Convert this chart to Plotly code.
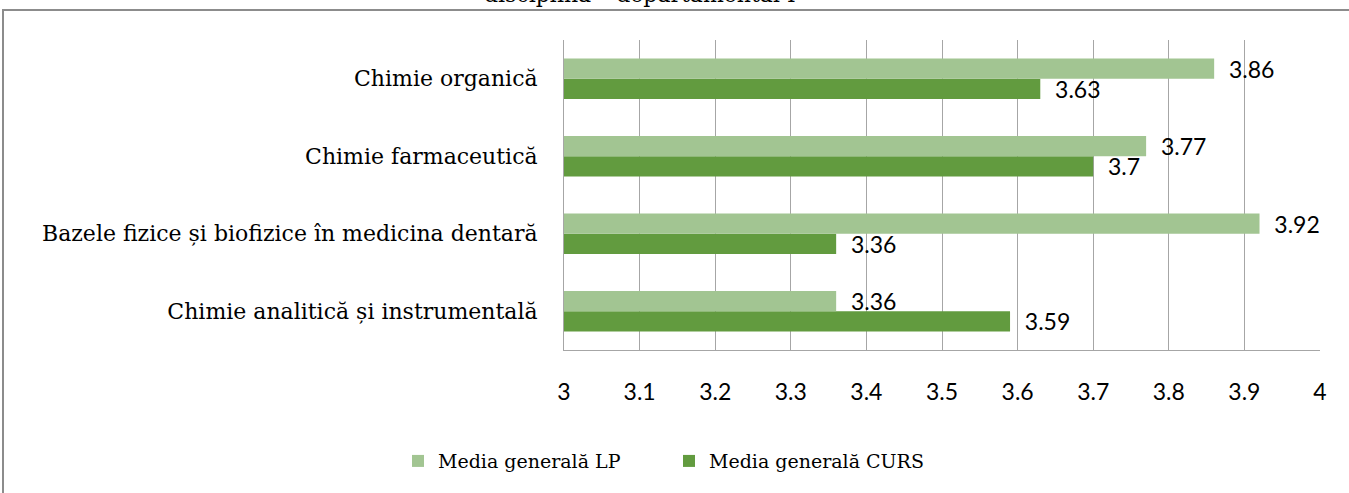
import plotly.graph_objects as go

categories = ["Chimie analitică și instrumentală",
              "Bazele fizice și biofizice în medicina dentară",
              "Chimie farmaceutică",
              "Chimie organică"]
lp_values = [3.36, 3.92, 3.77, 3.86]
curs_values = [3.59, 3.36, 3.7, 3.63]
x_ticks = [3, 3.1, 3.2, 3.3, 3.4, 3.5, 3.6, 3.7, 3.8, 3.9, 4]

LP_COLOR = "#A2C592"
CURS_COLOR = "#629B3F"
SERIF = "DejaVu Serif"
SANS = "Lato"

fig = go.Figure()
fig.add_trace(go.Bar(
    y=categories, x=curs_values, orientation="h", name="Media generală CURS",
    marker=dict(color=CURS_COLOR, line=dict(width=0)),
    text=[f"{v:g}" for v in curs_values], texttemplate="  %{text}",
    textposition="outside", cliponaxis=False, constraintext="none",
    textfont=dict(family=SANS, size=23, color="black"),
    legendrank=2,
))
fig.add_trace(go.Bar(
    y=categories, x=lp_values, orientation="h", name="Media generală LP",
    marker=dict(color=LP_COLOR, line=dict(width=0)),
    text=[f"{v:g}" for v in lp_values], texttemplate="  %{text}",
    textposition="outside", cliponaxis=False, constraintext="none",
    textfont=dict(family=SANS, size=23, color="black"),
    legendrank=1,
))

fig.update_layout(
    width=1349, height=493,
    margin=dict(l=564, r=29, t=40, b=143),
    paper_bgcolor="white", plot_bgcolor="white",
    barmode="group", bargap=0.48, bargroupgap=0,
    showlegend=True,
    legend=dict(orientation="h", x=(398 - 564) / 756, xanchor="left", xref="paper",
                y=-0.297, yanchor="top",
                font=dict(family=SERIF, size=19, color="black"),
                itemwidth=30, entrywidth=226, entrywidthmode="pixels"),
    xaxis=dict(range=[3, 4], tickvals=x_ticks, ticktext=[f"{t:g}" for t in x_ticks],
               showgrid=True, gridcolor="#A6A6A6", gridwidth=1,
               showline=True, linecolor="#A6A6A6", linewidth=1,
               zeroline=False, ticks="", ticklabelstandoff=21,
               tickfont=dict(family=SANS, size=23, color="black")),
    yaxis=dict(showline=True, linecolor="#A6A6A6", linewidth=1,
               showgrid=False, ticks="", ticklabelstandoff=21,
               tickfont=dict(family=SERIF, size=22, color="black")),
    shapes=[dict(type="rect", xref="paper", yref="paper",
                 x0=(3 - 564) / 756, x1=1.2, y0=-1.0, y1=(350 - 10) / 310,
                 line=dict(color="#8C8C8C", width=2), fillcolor="rgba(0,0,0,0)",
                 layer="below")],
    annotations=[dict(text="disciplina – departamental I", xref="paper", yref="paper",
                      x=(640 - 564) / 756, y=(350 - 9) / 310, xanchor="center",
                      yanchor="bottom", showarrow=False,
                      font=dict(family=SERIF, size=22, color="black"))],
)

fig.write_html("out.html", config={"displayModeBar": False},
               post_script="document.body.style.margin='0px';")
